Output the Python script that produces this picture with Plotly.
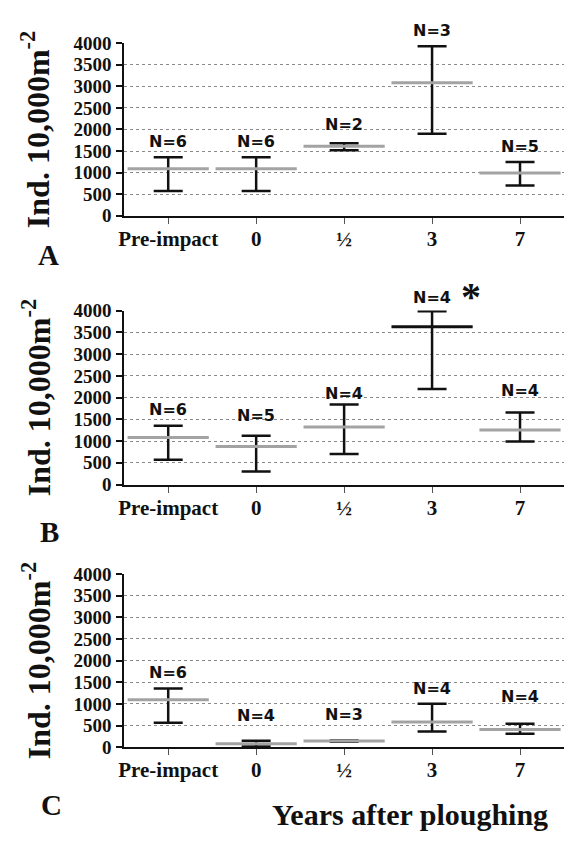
import plotly.graph_objects as go

W, H = 564, 843

categories = ["Pre-impact", "0", "½", "3", "7"]

a_mean = [1090, 1090, 1610, 3080, 990]
a_upper = [1355, 1355, 1680, 3930, 1245]
a_lower = [575, 575, 1520, 1900, 700]
a_n = ["N=6", "N=6", "N=2", "N=3", "N=5"]

b_mean = [1085, 875, 1325, 3630, 1255]
b_upper = [1355, 1120, 1840, 3985, 1660]
b_lower = [570, 300, 705, 2195, 990]
b_n = ["N=6", "N=5", "N=4", "N=4", "N=4"]

c_mean = [1095, 80, 140, 580, 410]
c_upper = [1355, 150, 155, 1005, 540]
c_lower = [565, 15, 125, 360, 310]
c_n = ["N=6", "N=4", "N=3", "N=4", "N=4"]

y_ticks = [0, 500, 1000, 1500, 2000, 2500, 3000, 3500, 4000]
panel_letters = ["A", "B", "C"]
y_title = "Ind. 10,000m<sup>-2</sup>"
x_title = "Years after ploughing"

GRAY = "#a3a3a3"
BLACK = "#111111"
SERIF = "Liberation Serif"
SANS = "DejaVu Sans"

# pixel layout (4000 line, 0 line) per panel
panels_px = [(34, 211), (308.3, 486.7), (578.3, 756)]
x_left_px = 119.5

# label centre offsets above upper cap (px)
n_shift = [
    [16, 16, 19, 16, 16],
    [16, 20, 11, 14, 22],
    [16, 25, 26, 15, 27],
]

panels = [
    (a_mean, a_upper, a_lower, a_n, [GRAY] * 5),
    (b_mean, b_upper, b_lower, b_n, [GRAY, GRAY, GRAY, BLACK, GRAY]),
    (c_mean, c_upper, c_lower, c_n, [GRAY] * 5),
]

fig = go.Figure()
annotations = []
layout = dict(
    width=W, height=H, margin=dict(l=0, r=0, t=0, b=0),
    plot_bgcolor="white", paper_bgcolor="white", showlegend=False,
)

xs = list(range(len(categories)))
x_ticktext = ["<b>%s</b>" % c for c in categories]
y_ticktext = ["<b>%d</b>" % v for v in y_ticks]

for i, (mean, up, lo, ns, mcols) in enumerate(panels):
    k = "" if i == 0 else str(i + 1)
    top, bot = panels_px[i]
    fig.add_trace(go.Scatter(
        x=xs, y=mean, mode="markers",
        xaxis="x" + k, yaxis="y" + k,
        marker=dict(symbol="line-ew", size=58, color=mcols,
                    line=dict(color=mcols, width=3)),
        error_y=dict(type="data", symmetric=False,
                     array=[u - m for u, m in zip(up, mean)],
                     arrayminus=[m - l for m, l in zip(mean, lo)],
                     color=BLACK, thickness=2.5, width=14.5),
        hoverinfo="skip",
    ))
    layout["xaxis" + k] = dict(
        domain=[x_left_px / W, 1.0], anchor="y" + k,
        range=[-0.5, 4.5], tickmode="array", tickvals=xs, ticktext=x_ticktext,
        showline=True, linecolor=BLACK, linewidth=2,
        ticks="outside", ticklen=6, tickcolor="#555", tickwidth=1,
        ticklabelstandoff=-3,
        tickfont=dict(family=SERIF, size=21, color=BLACK, weight="bold"),
        showgrid=False, zeroline=False,
    )
    layout["yaxis" + k] = dict(
        domain=[1 - bot / H, 1 - top / H], anchor="x" + k,
        range=[0, 4000], tickmode="array", tickvals=y_ticks,
        ticktext=y_ticktext,
        showline=True, linecolor=BLACK, linewidth=2,
        ticks="outside", ticklen=6, tickcolor=BLACK, tickwidth=1.5,
        ticklabelstandoff=1,
        tickfont=dict(family=SERIF, size=19, color=BLACK, weight="bold"),
        showgrid=True, gridcolor="#8a8a8a", griddash="dot", gridwidth=1,
        zeroline=False,
    )
    for j, txt in enumerate(ns):
        annotations.append(dict(
            x=j, y=up[j], xref="x" + k, yref="y" + k, text="<b>%s</b>" % txt,
            showarrow=False, yanchor="middle", yshift=n_shift[i][j],
            font=dict(family=SANS, size=16, color=BLACK, weight="bold"),
        ))
    annotations.append(dict(
        x=30 / W, y=1 - (top + bot) / 2 / H, xref="paper", yref="paper",
        text="<b>%s</b>" % y_title, textangle=-90, showarrow=False,
        xanchor="center", yanchor="middle",
        font=dict(family=SERIF, size=32, color=BLACK, weight="bold"),
    ))

letter_px = [(43, 251), (44, 535), (46, 815)]
for (lx, ly), L in zip(letter_px, panel_letters):
    annotations.append(dict(
        x=lx / W, y=1 - ly / H, xref="paper", yref="paper", text="<b>%s</b>" % L,
        showarrow=False, xanchor="center", yanchor="middle",
        font=dict(family=SERIF, size=29, color=BLACK, weight="bold"),
    ))

annotations.append(dict(
    x=408 / W, y=1 - 825 / H, xref="paper", yref="paper",
    text="<b>%s</b>" % x_title,
    showarrow=False, xanchor="center", yanchor="middle",
    font=dict(family=SERIF, size=30, color=BLACK, weight="bold"),
))

# significance asterisk in panel B
annotations.append(dict(
    x=470 / W, y=1 - 294 / H, xref="paper", yref="paper", text="<b>*</b>",
    showarrow=False, xanchor="center", yanchor="middle",
    font=dict(family=SERIF, size=40, color=BLACK, weight="bold"),
))

layout["annotations"] = annotations
fig.update_layout(**layout)
fig.write_html("out.html")
